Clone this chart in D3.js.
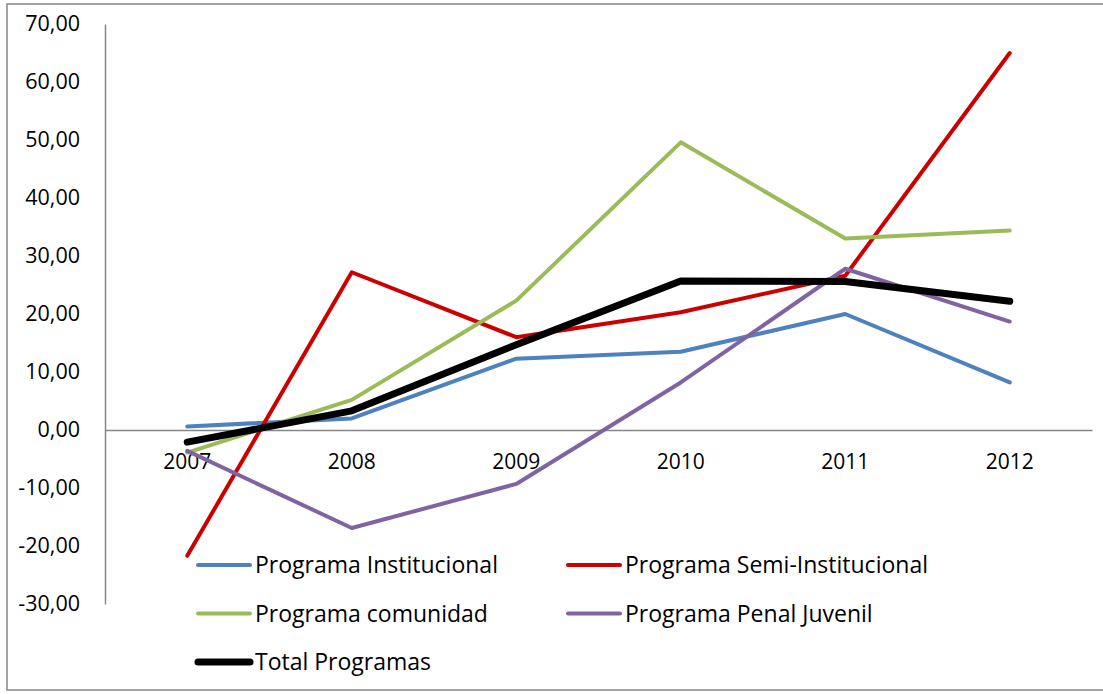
<!DOCTYPE html>
<html>
<head>
<meta charset="utf-8">
<script src="https://cdn.jsdelivr.net/npm/d3@7"></script>
<style>
  body { margin: 0; background: #fff; }
  text { font-family: "Open Sans", sans-serif; fill: #000; }
</style>
</head>
<body>
<div class="chart"></div>
<script>
const WIDTH = 1103
const HEIGHT = 694

// données
const years = ["2007", "2008", "2009", "2010", "2011", "2012"];
const institucional = [0.6, 2.0, 12.3, 13.5, 20.0, 8.2];
const semiInstitucional = [-21.7, 27.2, 16.0, 20.3, 26.6, 65.0];
const comunidad = [-3.9, 5.2, 22.3, 49.6, 33.0, 34.4];
const penalJuvenil = [-3.6, -16.9, -9.3, 8.2, 27.8, 18.7];
const total = [-2.1, 3.3, 14.7, 25.7, 25.6, 22.2];
const yTicks = [70, 60, 50, 40, 30, 20, 10, 0, -10, -20, -30];

const series = [
  { name: "Programa Institucional", values: institucional, color: "#4F81BD", w: 4 },
  { name: "Programa Semi-Institucional", values: semiInstitucional, color: "#CC0000", w: 4 },
  { name: "Programa comunidad", values: comunidad, color: "#9BBB59", w: 4 },
  { name: "Programa Penal Juvenil", values: penalJuvenil, color: "#8064A2", w: 4 },
  { name: "Total Programas", values: total, color: "#000000", w: 7 }
];

const svg = d3.select("div.chart")
            .append("svg")
            .attr("width", WIDTH)
            .attr("height", HEIGHT);

// cadre
svg.append("rect")
   .attr("x", 7).attr("y", 4)
   .attr("width", 1110).attr("height", 686)
   .attr("fill", "none")
   .attr("stroke", "#868686")
   .attr("stroke-width", 1.5);

const x = d3.scaleBand().domain(years).range([105, 1092]);
const y = d3.scaleLinear().domain([-30, 70]).range([604, 24]);

// axe Y
const yAxis = svg.append("g")
   .attr("transform", "translate(105,0)")
   .call(d3.axisLeft(y).tickValues(yTicks).tickSize(0).tickPadding(25)
         .tickFormat(d => d.toFixed(2).replace(".", ",")));
yAxis.select(".domain").attr("stroke", "#868686").attr("stroke-width", 1.5);
yAxis.selectAll("text").style("font-size", "21.5px");

// axe X (ligne zéro)
const xAxis = svg.append("g")
   .attr("transform", `translate(0,${y(0)})`)
   .call(d3.axisBottom(x).tickSize(0).tickPadding(24));
xAxis.select(".domain").attr("stroke", "#868686").attr("stroke-width", 1.5);
xAxis.selectAll("text").style("font-size", "21px");

// lignes
const line = d3.line()
   .x((d, i) => x(years[i]) + x.bandwidth() / 2)
   .y(d => y(d));

svg.selectAll("path.serie")
   .data(series)
   .enter()
   .append("path")
   .attr("class", "serie")
   .attr("d", d => line(d.values))
   .attr("fill", "none")
   .attr("stroke", d => d.color)
   .attr("stroke-width", d => d.w)
   .attr("stroke-linejoin", "round")
   .attr("stroke-linecap", "round");

// légende
const legend = svg.selectAll("g.legend")
   .data(series)
   .enter()
   .append("g")
   .attr("class", "legend")
   .attr("transform", (d, i) => `translate(${i % 2 ? 568 : 198},${565 + Math.floor(i / 2) * 48.5})`);

legend.append("line")
   .attr("x1", 0).attr("x2", 52)
   .attr("stroke", d => d.color)
   .attr("stroke-width", d => d.w)
   .attr("stroke-linecap", "round");

legend.append("text")
   .attr("x", 57)
   .attr("dy", "0.35em")
   .style("font-size", "23px")
   .text(d => d.name);
</script>
</body>
</html>
